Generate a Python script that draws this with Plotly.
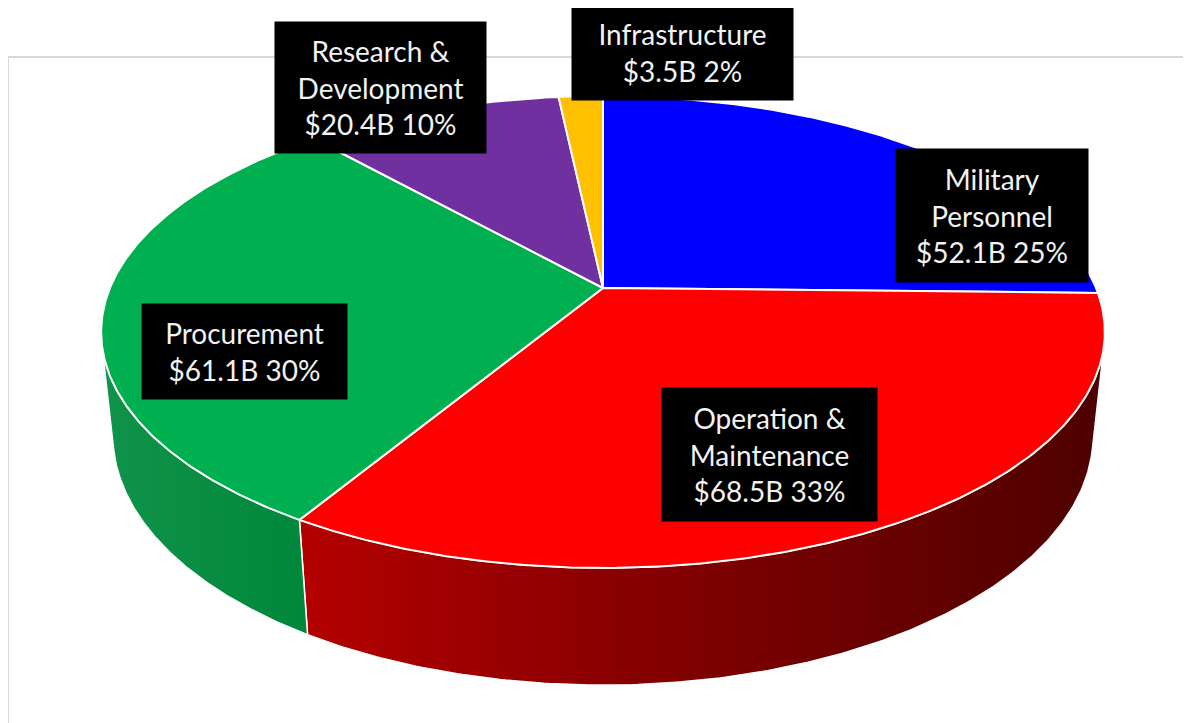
import numpy as np
import plotly.graph_objects as go

# ---- data ----
categories = ["Military<br>Personnel", "Operation &<br>Maintenance", "Procurement",
              "Research &<br>Development", "Infrastructure"]
values = [52.1, 68.5, 61.1, 20.4, 3.5]  # $ billions

# ---- styles ----
top_colors = ["#0000FF", "#FF0000", "#00B050", "#7030A0", "#FFC000"]
side_scales = [
    [[0, "#0000C0"], [1, "#000070"]],
    [[0, "#B40000"], [0.5, "#7E0000"], [1, "#4E0000"]],
    [[0, "#10934A"], [1, "#00873B"]],
    [[0, "#5A2680"], [1, "#3A1455"]],
    [[0, "#D9A000"], [1, "#A07000"]],
]
label_x = [992, 769.5, 244.5, 380.5, 682.5]
label_y = [215.5, 454.5, 351.5, 87.5, 52.5]
label_w = [192, 215, 205, 211, 221]
label_h = [133, 133, 95, 131, 95]

# ---- 3D perspective projection of the pie (page-pixel axes) ----
W, HGT = 1191, 723
OFF = 8  # page body margin
CX, CY = 603, 288
F, D = 2347.0, 4.76
SP = 0.462
CP = np.sqrt(1 - SP ** 2)
THICK = 0.239


def project(theta, Y):
    X = np.sin(theta)
    Z = -np.cos(theta)
    d = D - (Y * SP + Z * CP)
    up = Y * CP - Z * SP
    return CX + F * X / d, CY - F * up / d


total = sum(values)
fracs = [v / total for v in values]
bounds = np.concatenate([[0], np.cumsum(fracs)]) * 2 * np.pi

z0 = 1.0 / (D * CP)
vis_a = np.arccos(-z0)
vis_b = 2 * np.pi - vis_a

fig = go.Figure()

# side walls
for i in range(len(values)):
    a = max(bounds[i], vis_a)
    b = min(bounds[i + 1], vis_b)
    if b <= a:
        continue
    t = np.linspace(a, b, 200)
    xt, yt = project(t, 0.0)
    xb, yb = project(t[::-1], -THICK)
    xs = np.concatenate([xt, xb, xt[:1]])
    ys = np.concatenate([yt, yb, yt[:1]])
    fig.add_trace(go.Scatter(
        x=xs, y=ys, mode="lines", fill="toself",
        fillgradient=dict(type="horizontal", colorscale=side_scales[i]),
        line=dict(color="white", width=1.5),
        hoverinfo="skip", showlegend=False))

# top faces
for i in range(len(values)):
    t = np.linspace(bounds[i], bounds[i + 1], 300)
    xt, yt = project(t, 0.0)
    xs = np.concatenate([[CX], xt, [CX]])
    ys = np.concatenate([[CY], yt, [CY]])
    fig.add_trace(go.Scatter(
        x=xs, y=ys, mode="lines", fill="toself", fillcolor=top_colors[i],
        line=dict(color="white", width=2),
        name=categories[i].replace("<br>", " "),
        hoverinfo="name", showlegend=False))

# labels
for i in range(len(values)):
    pct = round(100 * values[i] / total)
    txt = f"{categories[i]}<br>${values[i]:.1f}B {pct}%"
    fig.add_annotation(
        x=label_x[i], y=label_y[i], xref="x", yref="y",
        text=txt, showarrow=False, xanchor="center", yanchor="middle",
        width=label_w[i], height=label_h[i], align="center", valign="middle",
        bgcolor="black", borderpad=0,
        font=dict(family="Lato", size=28, color="#F2F2F2"))

# chart-area frame (open at right and bottom)
fig.add_shape(type="rect", x0=8, y0=57, x1=W + 10, y1=HGT + 10,
              xref="x", yref="y", line=dict(color="#D9D9D9", width=2),
              layer="below")

fig.update_layout(
    width=W - OFF, height=HGT - OFF,
    margin=dict(l=0, r=0, t=0, b=0),
    paper_bgcolor="white", plot_bgcolor="white",
    xaxis=dict(range=[OFF, W], visible=False, fixedrange=True),
    yaxis=dict(range=[HGT, OFF], visible=False, fixedrange=True),
    showlegend=False,
)

fig.write_html("out.html")
